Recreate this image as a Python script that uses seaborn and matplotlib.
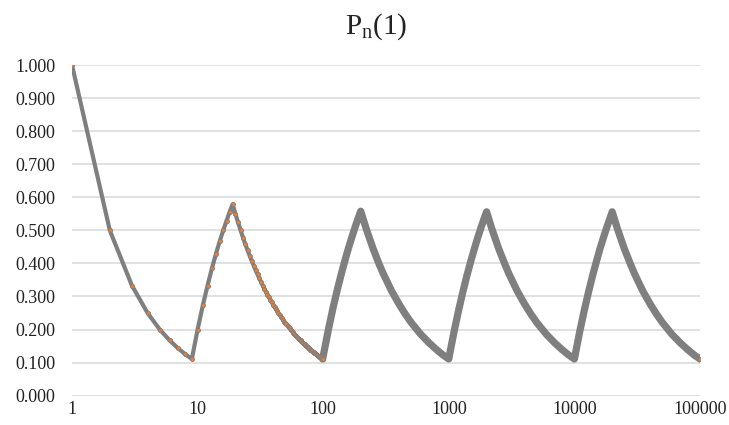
import matplotlib
matplotlib.use("Agg")
import matplotlib.pyplot as plt
from matplotlib.ticker import FixedLocator, FixedFormatter, NullLocator
import seaborn as sns
import pandas as pd

# n = 1 .. 99, every integer
n_small = list(range(1, 100))
p_small = [
    1.000, 0.500, 0.333, 0.250, 0.200, 0.167, 0.143, 0.125, 0.111,
    0.200, 0.273, 0.333, 0.385, 0.429, 0.467, 0.500, 0.529, 0.556, 0.579,
    0.550, 0.524, 0.500, 0.478, 0.458, 0.440, 0.423, 0.407, 0.393, 0.379,
    0.367, 0.355, 0.344, 0.333, 0.324, 0.314, 0.306, 0.297, 0.289, 0.282,
    0.275, 0.268, 0.262, 0.256, 0.250, 0.244, 0.239, 0.234, 0.229, 0.224,
    0.220, 0.216, 0.212, 0.208, 0.204, 0.200, 0.196, 0.193, 0.190, 0.186,
    0.183, 0.180, 0.177, 0.175, 0.172, 0.169, 0.167, 0.164, 0.162, 0.159,
    0.157, 0.155, 0.153, 0.151, 0.149, 0.147, 0.145, 0.143, 0.141, 0.139,
    0.138, 0.136, 0.134, 0.133, 0.131, 0.129, 0.128, 0.126, 0.125, 0.124,
    0.122, 0.121, 0.120, 0.118, 0.117, 0.116, 0.115, 0.113, 0.112, 0.111,
]

# n = 100 .. 100000, sampled
n_large = [
    100, 110, 120, 130, 140, 150, 160, 170, 180, 190, 199,
    200, 220, 250, 280, 300, 350, 400, 450, 500, 600, 700, 800, 900, 999,
    1000, 1100, 1200, 1300, 1400, 1500, 1600, 1700, 1800, 1900, 1999,
    2000, 2200, 2500, 2800, 3000, 3500, 4000, 4500, 5000, 6000, 7000, 8000, 9000, 9999,
    10000, 11000, 12000, 13000, 14000, 15000, 16000, 17000, 18000, 19000, 19999,
    20000, 22000, 25000, 28000, 30000, 35000, 40000, 45000, 50000, 60000, 70000, 80000, 90000, 99999,
    100000,
]
p_large = [
    0.120, 0.200, 0.267, 0.323, 0.371, 0.413, 0.450, 0.482, 0.511, 0.537, 0.558,
    0.555, 0.505, 0.444, 0.396, 0.370, 0.317, 0.278, 0.247, 0.222, 0.185, 0.159, 0.139, 0.123, 0.111,
    0.112, 0.193, 0.260, 0.317, 0.366, 0.408, 0.445, 0.478, 0.507, 0.533, 0.556,
    0.556, 0.505, 0.444, 0.397, 0.370, 0.317, 0.278, 0.247, 0.222, 0.185, 0.159, 0.139, 0.123, 0.111,
    0.111, 0.192, 0.259, 0.316, 0.365, 0.407, 0.445, 0.477, 0.506, 0.532, 0.556,
    0.556, 0.505, 0.444, 0.397, 0.370, 0.317, 0.278, 0.247, 0.222, 0.185, 0.159, 0.139, 0.123, 0.111,
    0.111,
]

x_ticks = [1, 10, 100, 1000, 10000, 100000]
x_labels = ["1", "10", "100", "1000", "10000", "100000"]
y_ticks = [0.0, 0.1, 0.2, 0.3, 0.4, 0.5, 0.6, 0.7, 0.8, 0.9, 1.0]
y_labels = ["0.000", "0.100", "0.200", "0.300", "0.400", "0.500",
            "0.600", "0.700", "0.800", "0.900", "1.000"]

LINE = "#7f7f7f"
MARK = "#ed7d31"

sns.set_style("white")
plt.rcParams["font.family"] = ["Liberation Serif", "DejaVu Serif"]
plt.rcParams["mathtext.fontset"] = "custom"
plt.rcParams["mathtext.rm"] = "Liberation Serif"
plt.rcParams["mathtext.it"] = "Liberation Serif:italic"

fig = plt.figure(figsize=(7.29, 4.25), dpi=100)
ax = fig.add_axes([72 / 729, 1 - 395.7 / 425, (700 - 72) / 729, (395.7 - 65) / 425])

small = pd.DataFrame({"n": n_small, "p": p_small})
large = pd.DataFrame({"n": [n_small[-1]] + n_large, "p": [p_small[-1]] + p_large})

sns.lineplot(data=large, x="n", y="p", ax=ax, color=LINE, lw=5.2,
             estimator=None, sort=False, zorder=3)
sns.lineplot(data=small, x="n", y="p", ax=ax, color=LINE, lw=3.0,
             estimator=None, sort=False, zorder=4,
             marker="o", markersize=2.9, markerfacecolor=MARK,
             markeredgecolor=LINE, markeredgewidth=0.6)
ax.plot([n_large[-1]], [p_large[-1]], "o", ms=2.9, mfc=MARK, mec=LINE, mew=0.6, zorder=5)

ax.set_xscale("log")
ax.set_xlim(1, 100000)
ax.set_ylim(0, 1.0)
ax.xaxis.set_major_locator(FixedLocator(x_ticks))
ax.xaxis.set_major_formatter(FixedFormatter(x_labels))
ax.xaxis.set_minor_locator(NullLocator())
ax.yaxis.set_major_locator(FixedLocator(y_ticks))
ax.yaxis.set_major_formatter(FixedFormatter(y_labels))
ax.tick_params(axis="y", length=0, pad=12, labelsize=13, labelcolor="#222222")
ax.tick_params(axis="x", length=0, pad=4, labelsize=13, labelcolor="#222222")
ax.grid(axis="y", color="#d9d9d9", lw=1.1, zorder=0)
ax.grid(axis="x", visible=False)
for s in ax.spines.values():
    s.set_visible(False)
ax.set_xlabel("")
ax.set_ylabel("")
for lab in ax.get_yticklabels() + ax.get_xticklabels():
    lab.set_clip_on(False)

fig.text(376 / 729, 1 - 34 / 425, r"P$_\mathrm{n}$(1)", ha="center", va="baseline",
         fontsize=21, color="#222222")

fig.savefig("out.png", dpi=100)
